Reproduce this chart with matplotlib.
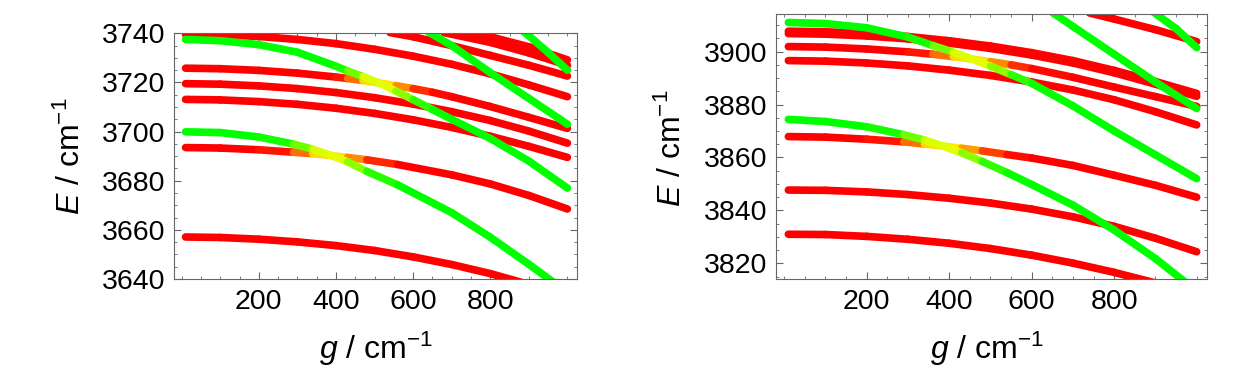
import numpy as np
import matplotlib.pyplot as plt
from matplotlib.collections import LineCollection

plt.rcParams['font.family'] = ['Liberation Sans', 'DejaVu Sans']
plt.rcParams['mathtext.fontset'] = 'custom'
plt.rcParams['mathtext.rm'] = 'Liberation Sans'
plt.rcParams['mathtext.it'] = 'Liberation Sans:italic'

# common g grid (cm^-1)
g_grid = [10, 100, 200, 300, 400, 500, 600, 700, 800, 900, 1000]

# ---- left panel ----
L_R1 = [3739.6, 3739.4, 3738.7, 3737.5, 3735.8, 3733.5, 3730.7, 3727.4, 3723.5, 3719.0, 3714.2]
L_Rd = [3719.5, 3719.3, 3718.6, 3717.5, 3715.9, 3713.8, 3711.2, 3708.1, 3704.5, 3700.2, 3695.3]
L_Rc = [3713.1, 3712.9, 3712.2, 3711.1, 3709.5, 3707.4, 3704.8, 3701.7, 3698.1, 3694.0, 3689.5]
L_Ra = [3657.1, 3656.9, 3656.2, 3655.1, 3653.6, 3651.6, 3649.0, 3645.9, 3642.2, 3637.8, 3632.9]

# avoided crossing near g = 385
g_L1 = [10, 100, 200, 290, 340, 385, 430, 480, 560, 700, 800, 900, 1000]
L_Rb = [3693.5, 3693.3, 3692.6, 3691.6, 3691.0, 3690.3, 3689.5, 3688.5, 3686.6, 3682.4, 3678.7, 3674.0, 3668.5]
L_Gb = [3699.9, 3699.6, 3697.8, 3694.9, 3692.8, 3690.4, 3687.7, 3683.8, 3678.3, 3667.0, 3657.0, 3646.0, 3634.5]
c_L1_red = [0, 0, 0, 0.08, 0.35, 0.5, 0.4, 0.15, 0, 0, 0, 0, 0]
c_L1_grn = [1, 1, 1, 0.92, 0.65, 0.5, 0.6, 0.85, 1, 1, 1, 1, 1]

# avoided crossing near g = 512
g_L2 = [10, 100, 200, 300, 400, 430, 470, 512, 555, 600, 650, 700, 800, 900, 1000]
L_Re = [3725.8, 3725.6, 3724.9, 3723.8, 3722.2, 3721.6, 3720.8, 3719.8, 3718.7, 3717.5, 3716.0, 3714.2, 3710.2, 3705.8, 3701.3]
L_G1 = [3737.5, 3737.0, 3735.4, 3732.3, 3726.6, 3724.7, 3722.4, 3719.8, 3716.5, 3713.0, 3709.0, 3705.0, 3697.2, 3688.0, 3677.0]
c_L2_red = [0, 0, 0, 0, 0, 0.08, 0.35, 0.5, 0.4, 0.15, 0.03, 0, 0, 0, 0]
c_L2_grn = [1, 1, 1, 1, 1, 0.92, 0.65, 0.5, 0.6, 0.85, 0.97, 1, 1, 1, 1]

# upper right fragments
g_LT2 = [540, 600, 700, 800, 900, 1000]
L_RT2 = [3740.3, 3738.6, 3735.0, 3731.0, 3727.0, 3722.6]
g_LTa = [680, 800, 900, 1000]
L_RTa = [3740.3, 3736.3, 3732.0, 3727.0]
g_LTb = [720, 800, 900, 1000]
L_RTb = [3741.2, 3738.6, 3734.5, 3729.2]
g_LG2 = [640, 700, 800, 900, 1000]
L_G2 = [3740.5, 3735.0, 3724.0, 3713.5, 3703.0]
g_LG3 = [880, 900, 950, 1000]
L_G3 = [3741.5, 3739.0, 3732.2, 3725.0]

# ---- right panel ----
R_Ra = [3831.0, 3830.9, 3830.2, 3829.1, 3827.6, 3825.6, 3823.1, 3820.1, 3816.6, 3812.6, 3808.0]
R_Rb = [3847.7, 3847.6, 3847.0, 3846.0, 3844.6, 3842.8, 3840.5, 3837.6, 3834.0, 3829.5, 3824.4]
R_Rd = [3896.6, 3896.4, 3895.7, 3894.6, 3893.0, 3891.0, 3888.5, 3885.5, 3881.8, 3877.3, 3872.3]
R_Rf1 = [3907.7, 3907.5, 3906.8, 3905.7, 3904.1, 3902.1, 3899.6, 3896.6, 3892.9, 3888.7, 3884.2]
R_Rf2 = [3906.8, 3906.6, 3905.9, 3904.8, 3903.2, 3901.2, 3898.7, 3895.7, 3892.0, 3887.7, 3883.1]

g_R1 = [10, 100, 200, 290, 340, 385, 430, 480, 540, 600, 700, 800, 900, 1000]
R_Rc = [3867.9, 3867.7, 3866.9, 3865.9, 3865.1, 3864.3, 3863.5, 3862.5, 3861.1, 3859.8, 3857.0, 3853.3, 3849.5, 3845.0]
R_Gb = [3874.4, 3873.6, 3871.6, 3868.6, 3866.6, 3864.3, 3861.8, 3858.5, 3854.3, 3849.8, 3842.0, 3832.6, 3821.8, 3809.5]
c_R1_red = [0, 0, 0, 0.08, 0.35, 0.5, 0.42, 0.2, 0.05, 0, 0, 0, 0, 0]
c_R1_grn = [1, 1, 1, 0.92, 0.65, 0.5, 0.6, 0.85, 0.97, 1, 1, 1, 1, 1]

g_R2 = [10, 100, 200, 300, 360, 410, 455, 500, 550, 600, 700, 800, 900, 1000]
R_Re = [3901.9, 3901.7, 3901.0, 3899.9, 3899.0, 3898.1, 3897.2, 3896.2, 3895.0, 3893.6, 3890.3, 3886.6, 3883.0, 3879.3]
R_Gt = [3911.0, 3910.6, 3909.0, 3905.5, 3902.3, 3899.8, 3897.2, 3894.5, 3891.3, 3888.0, 3879.5, 3870.0, 3861.0, 3852.0]
c_R2_red = [0, 0, 0, 0, 0.08, 0.35, 0.5, 0.4, 0.15, 0.03, 0, 0, 0, 0]
c_R2_grn = [1, 1, 1, 1, 0.92, 0.65, 0.5, 0.6, 0.85, 0.97, 1, 1, 1, 1]

g_RT = [740, 800, 900, 1000]
R_RT = [3914.6, 3912.3, 3908.3, 3903.8]
g_RG2 = [650, 700, 800, 900, 1000]
R_G2 = [3914.8, 3909.5, 3899.0, 3888.5, 3878.5]
g_RG3 = [890, 950, 1000]
R_G3 = [3915.5, 3908.7, 3901.5]


def mix(c):
    # 0 -> red, 0.5 -> yellow, 1 -> green
    c = np.asarray(c, float)
    return np.column_stack([np.clip(2 * (1 - c), 0, 1), np.clip(2 * c, 0, 1), np.zeros_like(c)])


def curve(ax, g, e, c):
    g = np.asarray(g, float)
    e = np.asarray(e, float)
    c = np.broadcast_to(np.asarray(c, float), g.shape)
    pts = np.column_stack([g, e]).reshape(-1, 1, 2)
    segs = np.concatenate([pts[:-1], pts[1:]], axis=1)
    lc = LineCollection(segs, colors=mix((c[:-1] + c[1:]) / 2), linewidths=5.5,
                        capstyle='round', joinstyle='round')
    ax.add_collection(lc)


def style(ax, ylim, yticks):
    ax.set_xticks([200, 400, 600, 800])
    ax.set_xticks(np.arange(0, 1001, 50), minor=True)
    ax.set_yticks(yticks)
    ax.set_yticks(np.arange(yticks[0] - 10, yticks[-1] + 16, 5), minor=True)
    ax.set_xlim(-20, 1025)
    ax.set_ylim(*ylim)
    ax.tick_params(which='both', direction='in', top=True, right=True,
                   color='#666666', labelsize=20.5)
    ax.tick_params(which='major', length=5)
    ax.tick_params(which='minor', length=2.5)
    ax.tick_params(axis='x', pad=7)
    ax.tick_params(axis='y', pad=6)
    for s in ax.spines.values():
        s.set_color('#666666')
    ax.set_xlabel(r'$g$ / cm$^{-1}$', fontsize=23, va='center')
    ax.set_ylabel(r'$E$ / cm$^{-1}$', fontsize=23, va='center')


fig = plt.figure(figsize=(12.41, 3.86), dpi=100)
ax1 = fig.add_axes([0.1402, 0.2772, 0.3248, 0.6365])
ax2 = fig.add_axes([0.6253, 0.2772, 0.3473, 0.6858])

# left
for e in [L_R1, L_Rd, L_Rc, L_Ra]:
    curve(ax1, g_grid, e, 0)
curve(ax1, g_LT2, L_RT2, 0)
curve(ax1, g_LTa, L_RTa, 0)
curve(ax1, g_LTb, L_RTb, 0)
curve(ax1, g_L1, L_Rb, c_L1_red)
curve(ax1, g_L2, L_Re, c_L2_red)
curve(ax1, g_L1, L_Gb, c_L1_grn)
curve(ax1, g_L2, L_G1, c_L2_grn)
curve(ax1, g_LG2, L_G2, 1)
curve(ax1, g_LG3, L_G3, 1)
style(ax1, (3640, 3740), [3640, 3660, 3680, 3700, 3720, 3740])
ax1.xaxis.set_label_coords(0.5, -0.285)
ax1.yaxis.set_label_coords(-0.255, 0.5)

# right
for e in [R_Ra, R_Rb, R_Rd, R_Rf1, R_Rf2]:
    curve(ax2, g_grid, e, 0)
curve(ax2, g_RT, R_RT, 0)
curve(ax2, g_R1, R_Rc, c_R1_red)
curve(ax2, g_R2, R_Re, c_R2_red)
curve(ax2, g_R1, R_Gb, c_R1_grn)
curve(ax2, g_R2, R_Gt, c_R2_grn)
curve(ax2, g_RG2, R_G2, 1)
curve(ax2, g_RG3, R_G3, 1)
style(ax2, (3814.1, 3914.1), [3820, 3840, 3860, 3880, 3900])
ax2.xaxis.set_label_coords(0.49, -0.265)
ax2.yaxis.set_label_coords(-0.24, 0.495)

fig.savefig('out.png', dpi=100)
